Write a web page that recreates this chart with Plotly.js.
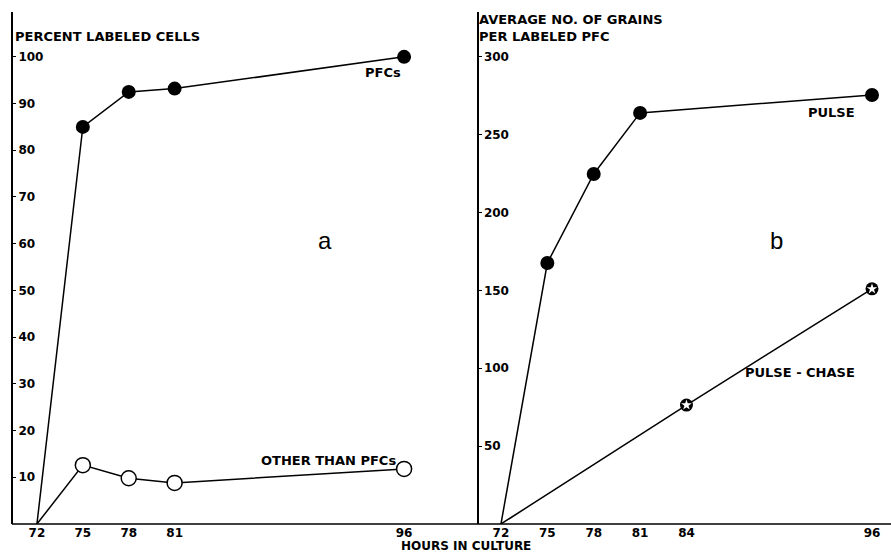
<!DOCTYPE html>
<html><head><meta charset="utf-8">
<script src="https://cdn.plot.ly/plotly-3.0.1.min.js"></script>
<style>html,body{margin:0;padding:0;background:#fff}</style>
</head><body>
<div id="chart" style="width:891px;height:555px"></div>
<script>
// Panel a
const hoursA = [72, 75, 78, 81, 96];
const pfcPercent = [0, 85, 92.5, 93.2, 100];
const otherPercent = [0, 12.6, 9.8, 8.8, 11.8];
const tickA = [72, 75, 78, 81, 96];
const yTicksA = [10, 20, 30, 40, 50, 60, 70, 80, 90, 100];
// Panel b
const hoursPulse = [72, 75, 78, 81, 96];
const pulseGrains = [0, 167.6, 224.8, 264, 275.5];
const hoursChase = [72, 84, 96];
const chaseGrains = [0, 76.4, 151];
const tickB = [72, 75, 78, 81, 84, 96];
const yTicksB = [50, 100, 150, 200, 250, 300];

const font = {family: 'DejaVu Sans, sans-serif', size: 12, color: '#000', weight: 'bold'};
const labelFont = {family: 'DejaVu Sans, sans-serif', size: 13, color: '#000', weight: 'bold'};
const bottomFont = {family: 'DejaVu Sans, sans-serif', size: 12, color: '#000', weight: 'bold'};
const bigFont = {family: 'Liberation Sans, Arial, sans-serif', size: 24, color: '#000', weight: 'normal'};
const lineStyle = {color: '#000', width: 1.5};

const traces = [
  {x: hoursA, y: pfcPercent, xaxis: 'x', yaxis: 'y', mode: 'lines', line: lineStyle},
  {x: hoursA.slice(1), y: pfcPercent.slice(1), xaxis: 'x', yaxis: 'y', mode: 'markers',
   marker: {symbol: 'circle', size: 14, color: '#000'}},
  {x: hoursA, y: otherPercent, xaxis: 'x', yaxis: 'y', mode: 'lines', line: lineStyle},
  {x: hoursA.slice(1), y: otherPercent.slice(1), xaxis: 'x', yaxis: 'y', mode: 'markers',
   marker: {symbol: 'circle', size: 15, color: '#fff', line: {color: '#000', width: 1.5}}},
  {x: hoursPulse, y: pulseGrains, xaxis: 'x2', yaxis: 'y2', mode: 'lines', line: lineStyle},
  {x: hoursPulse.slice(1), y: pulseGrains.slice(1), xaxis: 'x2', yaxis: 'y2', mode: 'markers',
   marker: {symbol: 'circle', size: 14, color: '#000'}},
  {x: hoursChase, y: chaseGrains, xaxis: 'x2', yaxis: 'y2', mode: 'lines', line: lineStyle},
  {x: hoursChase.slice(1), y: chaseGrains.slice(1), xaxis: 'x2', yaxis: 'y2', mode: 'markers',
   marker: {symbol: 'circle', size: 13, color: '#000'}},
  {x: hoursChase.slice(1), y: chaseGrains.slice(1), xaxis: 'x2', yaxis: 'y2', mode: 'markers',
   marker: {symbol: 'star', size: 8, color: '#fff'}}
];

const yDom = [31/555, 543/555];
const axBase = {showgrid: false, zeroline: false, tickfont: font, fixedrange: true};
const xTickStyle = {ticks: '', showline: false};
const yTickStyle = {side: 'right', anchor: 'free', ticks: 'outside', ticklen: 3, tickcolor: '#000',
  showline: true, linecolor: '#000'};

const layout = {
  width: 891, height: 555,
  margin: {l: 0, r: 0, t: 0, b: 0},
  paper_bgcolor: '#fff', plot_bgcolor: 'rgba(0,0,0,0)',
  showlegend: false, font: font,
  xaxis: Object.assign({}, axBase, xTickStyle, {domain: [12/891, 476/891], range: [70.37, 100.7],
    tickvals: tickA, ticktext: tickA.map(String), anchor: 'y'}),
  yaxis: Object.assign({}, axBase, yTickStyle, {domain: yDom, range: [0, 109.6], tickvals: yTicksA,
    ticktext: yTicksA.map(String), position: 12/891, linewidth: 2}),
  xaxis2: Object.assign({}, axBase, xTickStyle, {domain: [477/891, 1], range: [70.45, 97.23],
    tickvals: tickB, ticktext: tickB.map(String), anchor: 'y2'}),
  yaxis2: Object.assign({}, axBase, yTickStyle, {domain: yDom, range: [0, 328.8], tickvals: yTicksB,
    ticktext: yTicksB.map(String), position: 477/891, linewidth: 1.5}),
  shapes: [
    {type: 'line', xref: 'paper', yref: 'paper', x0: 12/891, x1: 1, y0: 31/555, y1: 31/555,
     line: {color: '#000', width: 1.5}}
  ],
  annotations: [
    {text: 'PERCENT LABELED CELLS', xref: 'paper', yref: 'paper', x: 13/891, y: 1 - 37/555,
     xanchor: 'left', yanchor: 'middle', showarrow: false, font: labelFont},
    {text: 'AVERAGE NO. OF GRAINS<br>PER LABELED PFC', xref: 'paper', yref: 'paper', x: 477/891, y: 1 - 28/555,
     xanchor: 'left', yanchor: 'middle', align: 'left', showarrow: false, font: labelFont},
    {text: 'PFCs', xref: 'x', yref: 'y', x: 94.6, y: 96.6, xanchor: 'center', showarrow: false, font: labelFont},
    {text: 'OTHER THAN PFCs', xref: 'x', yref: 'y', x: 95.6, y: 13.5, xanchor: 'right', showarrow: false, font: labelFont},
    {text: 'PULSE', xref: 'x2', yref: 'y2', x: 95.0, y: 264, xanchor: 'right', showarrow: false, font: labelFont},
    {text: 'PULSE - CHASE', xref: 'x2', yref: 'y2', x: 95.0, y: 97.6, xanchor: 'right', showarrow: false, font: labelFont},
    {text: 'a', xref: 'paper', yref: 'paper', x: 325/891, y: 1 - 240/555, showarrow: false, font: bigFont},
    {text: 'b', xref: 'paper', yref: 'paper', x: 785/891, y: 1 - 240/555, showarrow: false, font: bigFont},
    {text: 'HOURS IN CULTURE', xref: 'paper', yref: 'paper', x: 466/891, y: 0,
     xanchor: 'center', yanchor: 'bottom', showarrow: false, font: bottomFont}
  ]
};

Plotly.newPlot('chart', traces, layout, {displayModeBar: false, staticPlot: true});
</script>
</body></html>
